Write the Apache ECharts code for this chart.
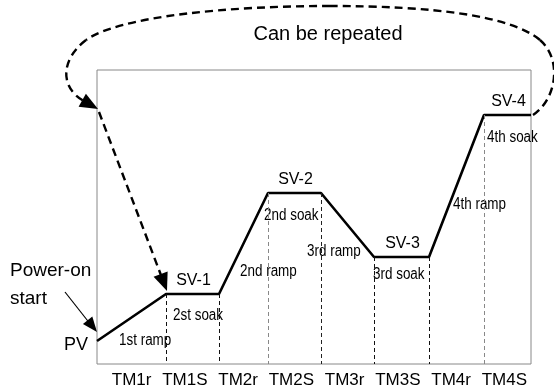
<!DOCTYPE html>
<html>
<head>
<meta charset="utf-8">
<script src="https://cdn.jsdelivr.net/npm/echarts@6/dist/echarts.min.js"></script>
<style>
html,body{margin:0;padding:0;background:#fff;}
#chart{width:554px;height:389px;}
</style>
</head>
<body>
<div id="chart"></div>
<script>
// program profile: time (x) and set value (y)
const stepX = [0, 69, 122, 171, 224, 277, 332, 387, 434];
const stepY = [23, 70, 70, 171, 171, 107, 107, 249, 249];
const timeLabels = ['TM1r', 'TM1S', 'TM2r', 'TM2S', 'TM3r', 'TM3S', 'TM4r', 'TM4S'];
const svNames = ['SV-1', 'SV-2', 'SV-3', 'SV-4'];
const segNames = ['1st ramp', '2st soak', '2nd ramp', '2nd soak', '3rd ramp', '3rd soak', '4th ramp', '4th soak'];

const FONT = 'Liberation Sans, Arial, sans-serif';

let chart = echarts.init(document.getElementById('chart'));

let lineData = stepX.map((x, i) => [x, stepY[i]]);

// dashed drop lines under every step point except the first and last
let dropColors = ['#111', '#111', '#888', '#222', '#111', '#111', '#888'];
let drops = [];
for (let i = 1; i < stepX.length - 1; i++) {
    drops.push([
        {coord: [stepX[i], stepY[i]], lineStyle: {color: dropColors[i - 1]}},
        {coord: [stepX[i], 0]}
    ]);
}

var option = {
    animation: false,
    grid: [
        {left: 97, right: 23, top: 70, bottom: 25, show: true, borderColor: '#888', borderWidth: 1},
        {left: 105, right: 23, top: 70, bottom: 25}
    ],
    xAxis: [
        {type: 'value', gridIndex: 0, min: 0, max: 434, show: false},
        {
            type: 'category', gridIndex: 1, data: timeLabels,
            axisLine: {show: false}, axisTick: {show: false}, splitLine: {show: false},
            axisLabel: {color: '#000', fontSize: 17, fontFamily: FONT, margin: 9, interval: 0}
        }
    ],
    yAxis: [
        {type: 'value', gridIndex: 0, min: 0, max: 294, show: false},
        {type: 'value', gridIndex: 1, show: false}
    ],
    series: [{
        type: 'line',
        data: lineData,
        symbol: 'none',
        lineStyle: {color: '#000', width: 2.6},
        markLine: {
            silent: true,
            symbol: 'none',
            label: {show: false},
            lineStyle: {type: [4, 3], width: 1},
            data: drops
        }
    }]
};
chart.setOption(option);

// ---- annotations ----
let pts = lineData.map(p => chart.convertToPixel({gridIndex: 0}, p));

function arrowHead(tip, from, len, hw) {
    let dx = tip[0] - from[0], dy = tip[1] - from[1];
    let d = Math.sqrt(dx * dx + dy * dy);
    dx /= d; dy /= d;
    let bx = tip[0] - dx * len, by = tip[1] - dy * len;
    return {
        type: 'polygon',
        shape: {points: [tip, [bx - dy * hw, by + dx * hw], [bx + dy * hw, by - dx * hw]]},
        style: {fill: '#000'}
    };
}

function txt(x, y, text, size, align, sx) {
    return {
        type: 'text', x: x, y: y, scaleX: sx || 1,
        style: {text: text, fontSize: size, fontFamily: FONT, fill: '#000',
            align: align || 'left', verticalAlign: 'middle'}
    };
}

let dash = {stroke: '#000', lineWidth: 2.4, lineDash: [8, 5], fill: null};
let g = [];

// loop: from SV-4 end, over the top, back to the left border
let last = pts[pts.length - 1];
let loopTip = [pts[0][0] + 1, 109];
g.push({type: 'bezierCurve', shape: {x1: last[0] + 2, y1: last[1], cpx1: 556, cpy1: 100, cpx2: 563, cpy2: 60, x2: 540, y2: 40}, style: dash});
g.push({type: 'bezierCurve', shape: {x1: 540, y1: 40, cpx1: 510, cpy1: 15, cpx2: 430, cpy2: 6, x2: 330, y2: 6}, style: dash});
g.push({type: 'bezierCurve', shape: {x1: 330, y1: 6, cpx1: 230, cpy1: 6, cpx2: 120, cpy2: 16, x2: 86, y2: 40}, style: dash});
g.push({type: 'bezierCurve', shape: {x1: 86, y1: 40, cpx1: 60, cpy1: 60, cpx2: 60, cpy2: 88, x2: 84, y2: 101}, style: dash});
g.push(arrowHead(loopTip, [80, 99], 18, 7.5));

// straight dashed arrow down to SV-1
let sv1Tip = [pts[1][0] + 1, pts[1][1] - 3];
let from2 = [pts[0][0] + 2, 112];
let dx2 = sv1Tip[0] - from2[0], dy2 = sv1Tip[1] - from2[1];
let d2 = Math.sqrt(dx2 * dx2 + dy2 * dy2);
g.push({type: 'line', shape: {x1: from2[0], y1: from2[1], x2: sv1Tip[0] - dx2 / d2 * 14, y2: sv1Tip[1] - dy2 / d2 * 14}, style: dash});
g.push(arrowHead(sv1Tip, from2, 18, 7.5));

// power-on arrow
let pvTip = [pts[0][0], pts[0][1] - 9];
g.push({type: 'line', shape: {x1: 65, y1: 292, x2: pvTip[0] - 6, y2: pvTip[1] - 7}, style: {stroke: '#000', lineWidth: 1.2}});
g.push(arrowHead(pvTip, [65, 292], 15, 6));

g.push(txt(328, 34, 'Can be repeated', 20, 'center'));
g.push(txt(10, 271, 'Power-on', 19));
g.push(txt(10, 299, 'start', 19));
g.push(txt(pts[0][0] - 9, pts[0][1] + 4, 'PV', 18, 'right'));

// SV labels above the soak segments
for (let k = 0; k < svNames.length; k++) {
    let a = pts[1 + k * 2], b = pts[2 + k * 2];
    g.push(txt((a[0] + b[0]) / 2 + 1, a[1] - 13, svNames[k], 16, 'center'));
}

// segment labels (condensed), offset from the start point of each segment
let segOff = [[22, 0], [7, 22], [21, -22], [-4, 23], [-14, 59], [-1, 18], [24, -52], [3, 23]];
for (let k = 0; k < segNames.length; k++) {
    let p = pts[k];
    g.push(txt(p[0] + segOff[k][0], p[1] + segOff[k][1], segNames[k], 16, 'left', 0.84));
}

chart.setOption({graphic: g});

window.onresize = function () {
    chart.resize();
};
</script>
</body>
</html>
